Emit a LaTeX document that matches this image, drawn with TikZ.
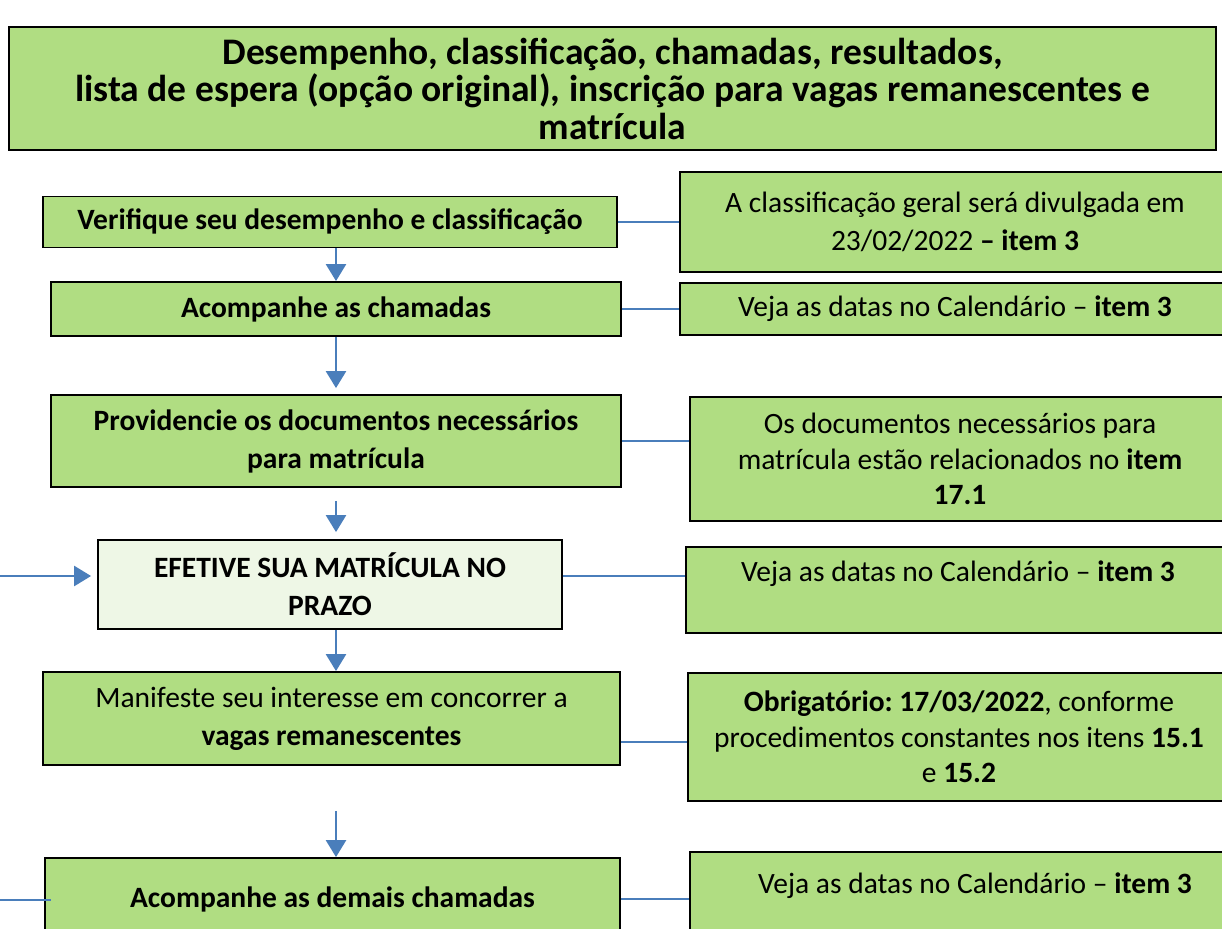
\documentclass[tikz,border=0pt]{standalone}
\usepackage{fontspec}
\setmainfont{Carlito}
\frenchspacing
\usetikzlibrary{arrows.meta,calc}
\definecolor{boxgreen}{HTML}{B0DD82}
\definecolor{boxpale}{HTML}{EEF7E6}
\definecolor{linkblue}{HTML}{4A7EBB}
\tikzset{
  stepbox/.style={draw=black,line width=1.8pt,fill=boxgreen,inner sep=0pt,align=center,
    font=\fontsize{29.5}{38}\selectfont},
  notebox/.style={stepbox,font=\fontsize{29.5}{35.5}\selectfont},
  titlebox/.style={stepbox,font=\fontsize{37.5}{37.5}\selectfont\bfseries},
  arr/.style={draw=linkblue,line width=2.5pt,-{Triangle[width=20pt,length=17pt]}},
  link/.style={draw=linkblue,line width=1.6pt},
}
\begin{document}
\begin{tikzpicture}[x=1pt,y=-1pt]
\useasboundingbox (0,0) rectangle (1222,928);
\node[titlebox,minimum width=1207,minimum height=123] (title) at (612.5,88.5)
  {Desempenho, classificação, chamadas, resultados,\\lista de espera (opção original), inscrição para vagas remanescentes e\\matrícula};
% left column
\node[stepbox,minimum width=574,minimum height=51] (A) at (330,222) {\textbf{Verifique seu desempenho e classificação}};
\node[stepbox,minimum width=570,minimum height=54] (B) at (336,309) {\textbf{Acompanhe as chamadas}};
\node[stepbox,minimum width=570,minimum height=92] (C) at (336,441) {\textbf{Providencie os documentos necessários}\\\textbf{para matrícula}};
\node[stepbox,fill=boxpale,minimum width=464,minimum height=89] (D) at (330,584.5) {\textbf{EFETIVE SUA MATRÍCULA NO}\\\textbf{PRAZO}};
\node[stepbox,minimum width=577,minimum height=93] (E) at (331.5,718.5) {Manifeste seu interesse em concorrer a\\\textbf{vagas remanescentes}};
\node[stepbox,minimum width=575,minimum height=82] (F) at (332.5,899) {\textbf{Acompanhe as demais chamadas}};
% right column
\node[stepbox,minimum width=550,minimum height=100] (An) at (955,222) {A classificação geral será divulgada em\\23/02/2022 \textbf{– item 3}};
\node[notebox,minimum width=550,minimum height=52] (Bn) at (955,309) {Veja as datas no Calendário – \textbf{item 3}};
\node[notebox,minimum width=540,minimum height=124] (Cn) at (960,459) {Os documentos necessários para\\matrícula estão relacionados no \textbf{item}\\\textbf{17.1}};
\node[stepbox,minimum width=544,minimum height=86] (Dn) at (958,590) {Veja as datas no Calendário – \textbf{item 3}\\~};
\node[notebox,minimum width=542,minimum height=128] (En) at (959,737) {\textbf{Obrigatório: 17/03/2022}, conforme\\procedimentos constantes nos itens \textbf{15.1}\\e \textbf{15.2}};
\node[stepbox,minimum width=540,minimum height=100] (Fn) at (960,902) {\hspace*{30pt}Veja as datas no Calendário – \textbf{item 3}\\~};
% side connectors
\draw[link] (A.east) -- (A.east -| An.west);
\draw[link] (B.east) -- (B.east -| Bn.west);
\draw[link] (C.east) -- (C.east -| Cn.west);
\draw[link] ([yshift=8.5pt]D.east) -- ([yshift=8.5pt]D.east -| Dn.west);
\draw[link] ([yshift=-23.5pt]E.east) -- ([yshift=-23.5pt]E.east -| En.west);
\draw[link] (F.east) -- (F.east -| Fn.west);
% vertical arrows
\draw[arr] (A.south -| B.north) -- (B.north);
\draw[arr,shorten >=6pt] (B.south) -- (C.north);
\draw[arr,shorten <=13pt,shorten >=7pt] (C.south) -- (C.south |- D.north);
\draw[arr] (D.south -| C.south) -- (E.north -| C.south);
\draw[arr,shorten <=45pt] (E.south -| C.south) -- (F.north -| C.south);
% incoming from left
\coordinate (inD) at (0,576);
\coordinate (inF) at (0,900);
\draw[arr,shorten >=6pt] (inD) -- (inD -| D.west);
\draw[link,line width=2.2pt] (inF) -- ([xshift=7pt]inF -| F.west);
\end{tikzpicture}
\end{document}
